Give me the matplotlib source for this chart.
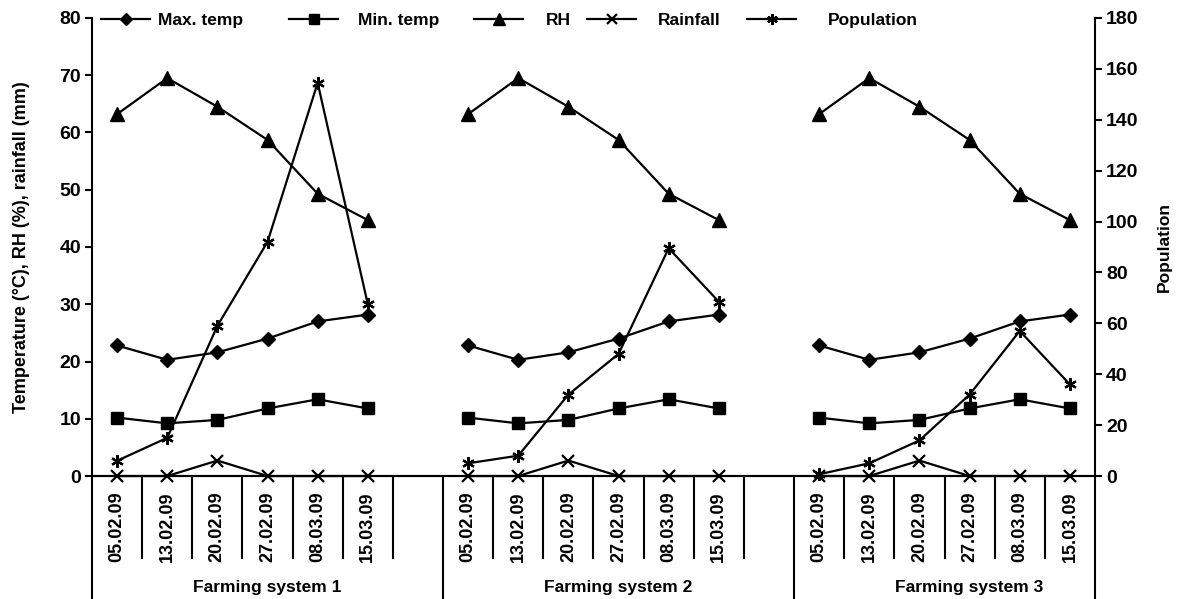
import matplotlib.pyplot as plt
from matplotlib.lines import Line2D

plt.rcParams['font.family'] = ['Liberation Sans', 'DejaVu Sans']
plt.rcParams['font.weight'] = 'bold'
plt.rcParams['axes.labelweight'] = 'bold'

dates = ['05.02.09', '13.02.09', '20.02.09', '27.02.09', '08.03.09', '15.03.09']
systems = ['Farming system 1', 'Farming system 2', 'Farming system 3']

# weather is the same for every farming system
max_temp = [22.8, 20.3, 21.6, 24.0, 27.0, 28.2]
min_temp = [10.2, 9.2, 9.8, 11.8, 13.4, 11.8]
rh = [63.2, 69.5, 64.5, 58.7, 49.3, 44.7]
rainfall = [0, 0, 2.7, 0, 0, 0]

pop_fs1 = [6, 15, 59, 92, 154.5, 67.5]
pop_fs2 = [5, 8, 32, 48, 89.5, 68.5]
pop_fs3 = [0.7, 5, 14, 32, 57, 36]
populations = [pop_fs1, pop_fs2, pop_fs3]

fig = plt.figure(figsize=(11.78, 5.99), dpi=100)
ax = fig.add_axes([0.0781, 0.2053, 0.8514, 0.7647])
ax2 = ax.twinx()

lw = 1.6
styles = {
    'max': dict(marker='D', ms=7.5),
    'min': dict(marker='s', ms=9),
    'rh': dict(marker='^', ms=10),
    'rain': dict(marker='x', ms=8, mew=1.6),
    'pop': dict(marker=(6, 2, 0), ms=9, mew=1.6),
}

for g in range(3):
    xs = [7 * g + i for i in range(len(dates))]
    ax.plot(xs, max_temp, color='k', lw=lw, **styles['max'])
    ax.plot(xs, min_temp, color='k', lw=lw, **styles['min'])
    ax.plot(xs, rh, color='k', lw=lw, **styles['rh'])
    ax.plot(xs, rainfall, color='k', lw=lw, clip_on=False, **styles['rain'])
    ax2.plot(xs, populations[g], color='k', lw=lw, clip_on=False, **styles['pop'])

ax.set_xlim(-0.5, 19.5)
ax.set_ylim(0, 80)
ax2.set_ylim(0, 180)
ax.set_yticks(range(0, 81, 10))
ax2.set_yticks(range(0, 181, 20))

for a in (ax, ax2):
    a.spines['top'].set_visible(False)
    for s in a.spines.values():
        s.set_linewidth(1.5)
    a.tick_params(axis='y', direction='out', length=5, width=1.5, labelsize=14, pad=3)
ax2.spines['left'].set_visible(False)
ax.spines['right'].set_visible(False)

# category labels
ticks = [7 * g + i for g in range(3) for i in range(len(dates))]
ax.set_xticks(ticks, dates * 3, rotation=90, fontsize=13)
ax.tick_params(axis='x', length=0, pad=11)

# separators of the two-level axis
for k in range(20):
    x = k - 0.5
    long = x in (-0.5, 6.5, 13.5)
    ax.axvline(x, ymin=-0.269 if long else -0.179, ymax=0, color='k', lw=1.5, clip_on=False)
ax.axvline(19.5, ymin=-0.269, ymax=0, color='k', lw=1.5, clip_on=False)

for g, name in enumerate(systems):
    cx = [3.0, 10.0, 17.0][g]
    ax.text(cx, -0.243, name, transform=ax.get_xaxis_transform(), ha='center', va='center', fontsize=12.5)

ax.set_ylabel('Temperature (°C), RH (%), rainfall (mm)', fontsize=13, labelpad=21)
ax2.set_ylabel('Population', fontsize=12.5, labelpad=13)

# legend, one entry at a time to follow the uneven spacing
entries = [('Max. temp', 'max', 101, 8), ('Min. temp', 'min', 289, 20), ('RH', 'rh', 474, 23),
           ('Rainfall', 'rain', 587, 22), ('Population', 'pop', 747, 32)]
fs_px = 12.5 * 100 / 72
for label, key, x0, gap in entries:
    st = dict(styles[key])
    st['ms'] = st['ms'] * 0.85
    h = Line2D([], [], color='k', lw=lw, **st)
    leg = fig.legend(handles=[h], labels=[label], loc='center left', bbox_to_anchor=(x0 / 1178, 1 - 20 / 599),
                     bbox_transform=fig.transFigure, frameon=False, borderpad=0, borderaxespad=0,
                     handlelength=49 / fs_px, handletextpad=gap / fs_px, fontsize=12.5)

fig.savefig('out.png', dpi=100)
